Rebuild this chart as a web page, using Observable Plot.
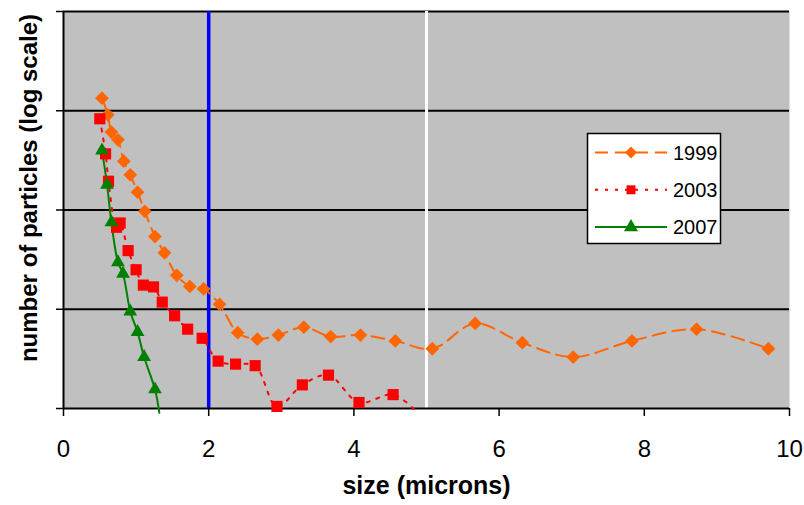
<!DOCTYPE html>
<html>
<head>
<meta charset="utf-8">
<script src="https://cdn.jsdelivr.net/npm/d3@7"></script>
<script src="https://cdn.jsdelivr.net/npm/@observablehq/plot@0.6"></script>
<style>
  body { margin: 0; background: #fff; }
  #chart svg { display: block; }
</style>
</head>
<body>
<div id="chart"></div>
<script>
// ---- data ----
const seriesNames = ["1999", "2003", "2007"];

const sizes1999  = [0.53, 0.61, 0.66, 0.75, 0.83, 0.92, 1.02, 1.12, 1.26, 1.39, 1.56, 1.74, 1.93, 2.15, 2.40, 2.67, 2.96, 3.31, 3.68, 4.09, 4.57, 5.08, 5.67, 6.32, 7.02, 7.83, 8.72, 9.71];
const counts1999 = [1340, 910, 610, 510, 310, 226, 151, 97, 54, 37, 22, 17, 16, 11.2, 5.8, 5.0, 5.5, 6.6, 5.3, 5.5, 4.8, 4.0, 7.2, 4.6, 3.3, 4.8, 6.3, 4.0];

const sizes2003  = [0.50, 0.58, 0.62, 0.73, 0.78, 0.89, 1.00, 1.10, 1.24, 1.36, 1.53, 1.71, 1.91, 2.13, 2.37, 2.64, 2.94, 3.29, 3.65, 4.07, 4.54, 4.87];
const counts2003 = [830, 368, 195, 67, 74, 39, 25, 17.5, 16.8, 11.8, 8.6, 6.3, 5.1, 3.0, 2.8, 2.7, 1.05, 1.73, 2.17, 1.15, 1.38, 0.92];

const sizes2007  = [0.53, 0.60, 0.66, 0.75, 0.82, 0.92, 1.02, 1.11, 1.26, 1.32];
const counts2007 = [398, 180, 75, 29.8, 22.8, 9.5, 5.9, 3.3, 1.56, 0.905];

const xTicks = [0, 2, 4, 6, 8, 10];
const yTicks = [1, 10, 100, 1000, 10000];
const yGrid = [10, 100, 1000, 10000];
const blueLineAt = [2];
const whiteLineAt = [5];

const xLabel = "size (microns)";
const yLabel = "number of particles (log scale)";

// ---- styles ----
const colors = {"1999": "#FF6600", "2003": "#FF0000", "2007": "#008000"};
const dashes = {"1999": "13,7", "2003": "3,7", "2007": null};
const symbols = {"1999": "diamond2", "2003": "square", "2007": "triangle"};
const radii = {"1999": 6.2, "2003": 6.3, "2007": 5.1};

const toRows = (xs, ys) => xs.map((x, i) => ({x, y: ys[i]}));
const data = {
  "1999": toRows(sizes1999, counts1999),
  "2003": toRows(sizes2003, counts2003),
  "2007": toRows(sizes2007, counts2007)
};

const seriesMarks = [];
for (const s of seriesNames) {
  seriesMarks.push(Plot.line(data[s], {
    x: "x", y: "y", stroke: colors[s], strokeWidth: 2,
    strokeDasharray: dashes[s] || undefined, curve: "catmull-rom"
  }));
}
for (const s of seriesNames) {
  seriesMarks.push(Plot.dot(data[s].filter(d => d.y >= 1), {
    x: "x", y: "y", symbol: symbols[s], r: radii[s], fill: colors[s], stroke: "none"
  }));
}

const plot = Plot.plot({
  width: 804,
  height: 505,
  marginLeft: 63,
  marginRight: 15,
  marginTop: 11,
  marginBottom: 97,
  style: {fontFamily: "'Liberation Sans', Arial, sans-serif", background: "#fff", color: "#000", overflow: "visible"},
  x: {domain: [0, 10]},
  y: {type: "log", domain: [1, 10000]},
  marks: [
    Plot.frame({fill: "#C0C0C0", stroke: "none"}),
    Plot.ruleY(yGrid, {stroke: "#000", strokeWidth: 2}),
    Plot.ruleX(blueLineAt, {stroke: "#0000FF", strokeWidth: 3.5}),
    Plot.ruleX(whiteLineAt, {stroke: "#FFFFFF", strokeWidth: 3}),
    Plot.ruleY([1], {stroke: "#000", strokeWidth: 2}),
    Plot.ruleX([0], {stroke: "#000", strokeWidth: 2}),
    Plot.axisX({ticks: xTicks, tickSize: 8, tickPadding: 23, fontSize: 24, label: null, strokeWidth: 1.5}),
    Plot.axisY({ticks: yTicks, tickSize: 7, tickFormat: () => "", label: null, strokeWidth: 1.5}),
    ...seriesMarks,
    Plot.text([xLabel], {frameAnchor: "bottom", dy: 85, fontSize: 25, fontWeight: "bold"}),
    Plot.text([yLabel], {frameAnchor: "left", textAnchor: "middle", dx: -34, dy: -22, rotate: -90, fontSize: 24, fontWeight: "bold"})
  ]
});

// ---- legend (drawn inside the plot area, like the original) ----
const svg = d3.select(plot);
const lg = svg.append("g")
  .attr("font-family", "'Liberation Sans', Arial, sans-serif")
  .attr("text-anchor", "start");
lg.append("rect")
  .attr("x", 587.5).attr("y", 133.5).attr("width", 133).attr("height", 110)
  .attr("fill", "#fff").attr("stroke", "#000").attr("stroke-width", 1.5);
const symbolFns = {"diamond2": d3.symbolDiamond2, "square": d3.symbolSquare, "triangle": d3.symbolTriangle};
const legendSizes = {"1999": 90, "2003": 80, "2007": 85};
seriesNames.forEach((s, i) => {
  const cy = 152.5 + i * 37.3;
  lg.append("line")
    .attr("x1", 595).attr("x2", 667).attr("y1", cy).attr("y2", cy)
    .attr("stroke", colors[s]).attr("stroke-width", 2)
    .attr("stroke-dasharray", dashes[s] || null);
  lg.append("path")
    .attr("transform", `translate(631,${cy})`)
    .attr("d", d3.symbol(symbolFns[symbols[s]], legendSizes[s])())
    .attr("fill", colors[s]);
  lg.append("text")
    .attr("x", 673).attr("y", cy).attr("dy", "0.36em")
    .attr("font-size", 20).attr("fill", "#000").attr("text-anchor", "start")
    .text(s);
});

document.getElementById("chart").appendChild(plot);
</script>
</body>
</html>
